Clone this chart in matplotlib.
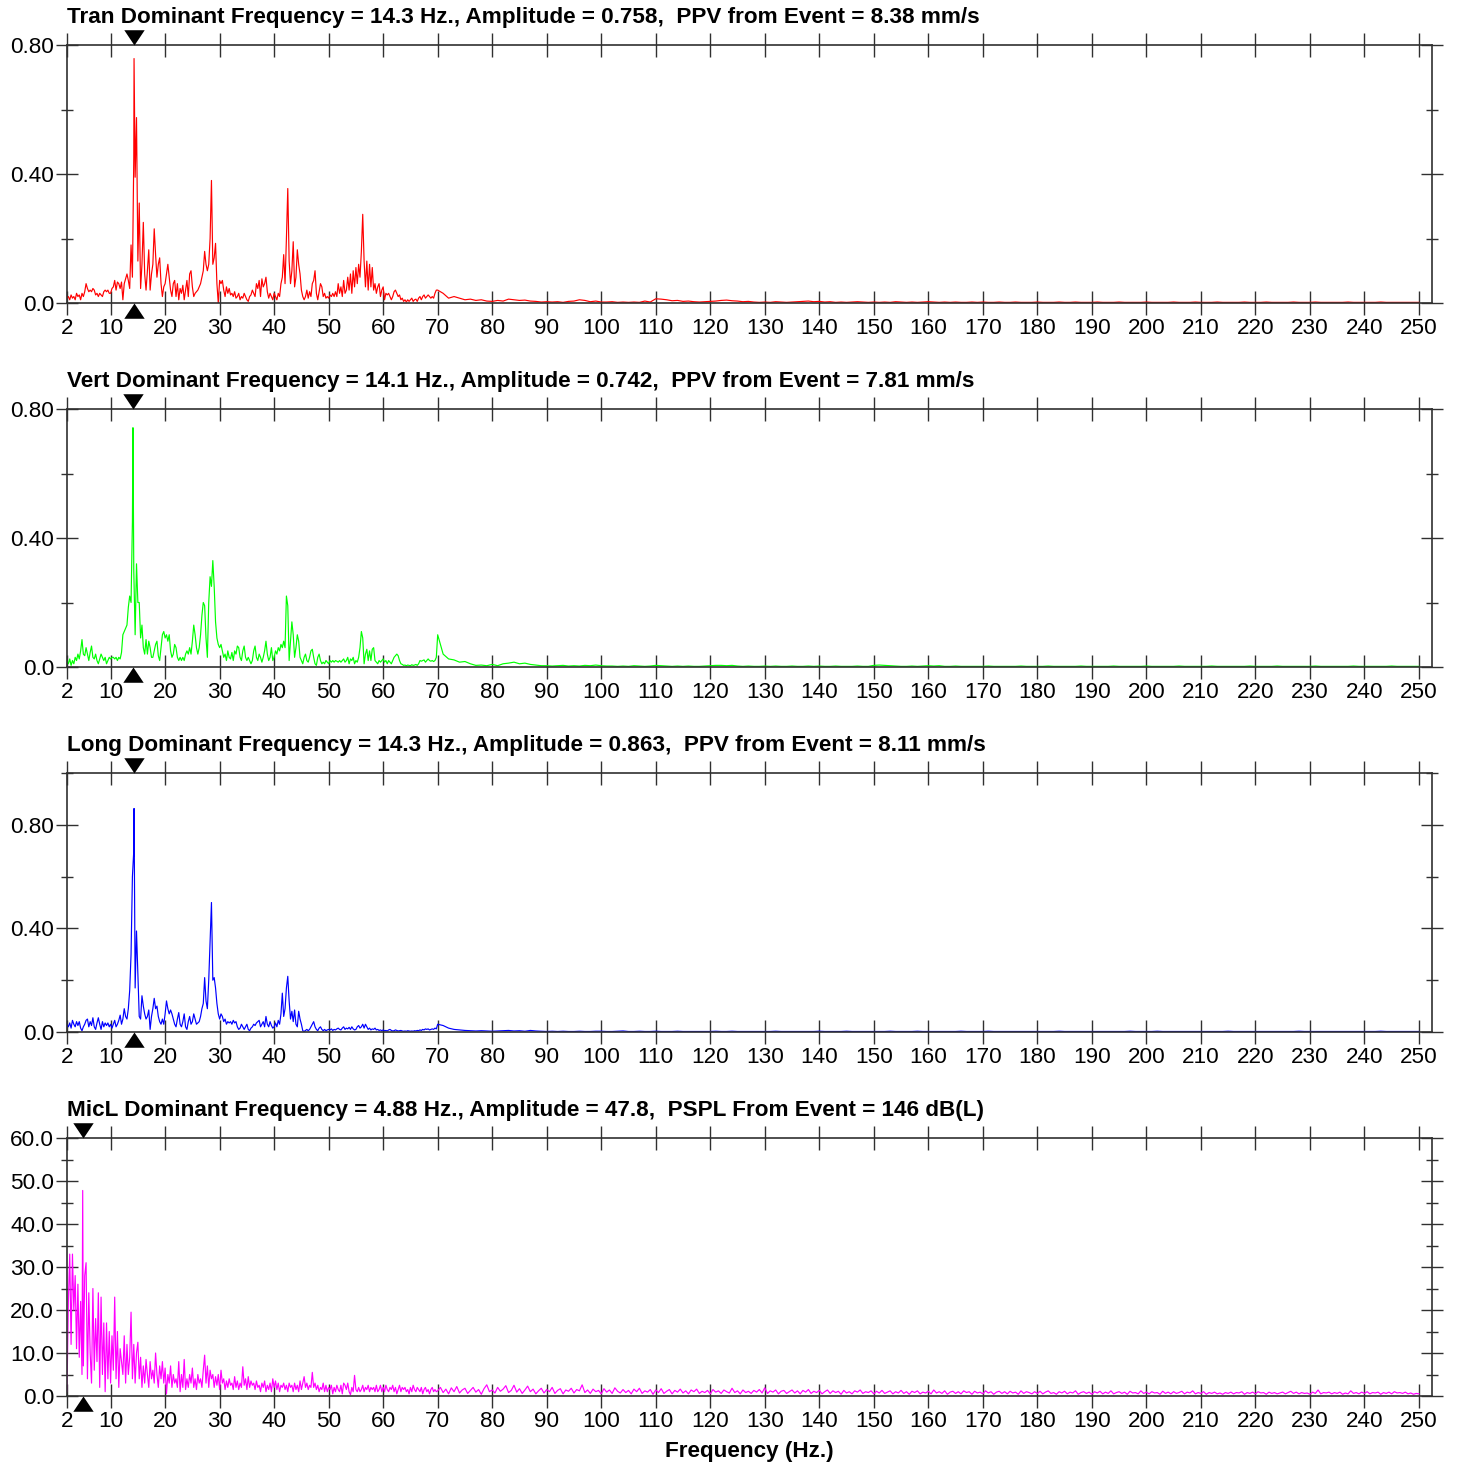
import numpy as np
import matplotlib
matplotlib.use('Agg')
import matplotlib.pyplot as plt
from matplotlib.ticker import FixedLocator, FixedFormatter

plt.rcParams['font.family'] = ['Liberation Sans', 'DejaVu Sans']

# channel summary
CHANNELS = ['Tran', 'Vert', 'Long', 'MicL']
COLORS = ['#ff0000', '#00ff00', '#0000ff', '#ff00ff']
DOM_FREQ = [14.3, 14.1, 14.3, 4.88]
DOM_AMP = [0.758, 0.742, 0.863, 47.8]
EVENT_TEXT = ['PPV from Event = 8.38 mm/s', 'PPV from Event = 7.81 mm/s',
              'PPV from Event = 8.11 mm/s', 'PSPL From Event = 146 dB(L)']

# spectra: *_lo every 0.25 Hz from 2 Hz, *_hi from 70 Hz (1 Hz step, MicL 0.5 Hz)
tran_lo = [
    .015, .02, .01, .025, .015, .02, .01, .03,
    .02, .025, .01, .03, .02, .035, .06, .045,
    .035, .04, .035, .045, .04, .025, .03, .02,
    .03, .025, .02, .035, .04, .035, .04, .03,
    .03, .045, .05, .07, .04, .065, .06, .045,
    .065, .01, .06, .075, .09, .07, .045, .18,
    .08, .45, .39, .575, .13, .31, .045, .12,
    .25, .09, .04, .1, .165, .04, .09, .12,
    .23, .15, .08, .12, .14, .06, .02, .05,
    .06, .09, .12, .08, .04, .02, .06, .07,
    .02, .06, .01, .045, .03, .055, .01, .04,
    .07, .02, .09, .1, .05, .02, .03, .035,
    .04, .05, .06, .08, .1, .16, .12, .1,
    .12, .2, .38, .12, .14, .185, .06, .0,
    .07, .06, .07, .04, .02, .05, .03, .045,
    .025, .03, .02, .035, .015, .02, .03, .01,
    .02, .015, .03, .02, .01, .005, .02, .025,
    .04, .03, .02, .06, .045, .07, .02, .075,
    .05, .06, .08, .035, .015, .03, .02, .01,
    .03, .02, .01, .03, .02, .06, .08, .15,
    .06, .2, .355, .13, .06, .1, .19, .05,
    .08, .165, .12, .09, .04, .02, .01, .02,
    .04, .015, .035, .02, .06, .07, .1, .03,
    .01, .035, .06, .05, .02, .03, .015, .02,
    .015, .025, .02, .03, .02, .035, .02, .06,
    .03, .05, .02, .07, .03, .04, .08, .04,
    .09, .03, .1, .05, .11, .06, .12, .08,
    .16, .275, .13, .05, .13, .04, .12, .05,
    .11, .04, .06, .03, .05, .06, .02, .04,
    .05, .01, .03, .025, .03, .02, .01, .02,
    .035, .04, .03, .02, .025, .01, .015, .005,
    .01, .003, .01, .005, .01, .015, .005, .01,
    .012, .005, .015, .02, .01, .02, .025, .015,
    .02, .025, .02, .015, .02, .015, .03, .04,
]
tran_hi = [
    .04, .03, .015, .02, .015, .01, .012, .008, .01, .006,
    .005, .008, .006, .012, .01, .008, .009, .006, .005, .003,
    .004, .003, .004, .002, .005, .006, .01, .008, .004, .006,
    .003, .003, .004, .002, .003, .002, .003, .002, .006, .003,
    .013, .012, .01, .007, .008, .005, .006, .004, .003, .004,
    .005, .006, .008, .009, .007, .006, .004, .005, .003, .002,
    .003, .002, .004, .003, .002, .003, .004, .005, .006, .004,
    .005, .003, .004, .002, .003, .002, .003, .004, .003, .002,
    .003, .002, .003, .002, .004, .003, .002, .003, .002, .003,
    .004, .003, .002, .003, .002, .003, .002, .002, .003, .002,
    .003, .002, .002, .003, .002, .002, .003, .002, .002, .002,
    .003, .002, .002, .002, .003, .002, .002, .003, .002, .002,
    .002, .003, .002, .002, .002, .003, .002, .002, .002, .002,
    .003, .002, .002, .002, .002, .003, .002, .002, .002, .003,
    .002, .002, .002, .003, .002, .002, .002, .002, .003, .002,
    .002, .002, .003, .002, .002, .002, .002, .003, .002, .002,
    .002, .003, .002, .002, .002, .002, .002, .003, .002, .002,
    .002, .002, .002, .003, .002, .002, .002, .002, .002, .002,
    .002,
]

vert_lo = [
    .02, .01, .025, .005, .02, .01, .03, .02,
    .04, .025, .05, .085, .04, .035, .06, .04,
    .02, .045, .065, .03, .025, .04, .02, .01,
    .025, .04, .03, .02, .03, .01, .02, .03,
    .025, .03, .03, .025, .03, .02, .03, .025,
    .045, .1, .11, .12, .13, .185, .22, .2,
    .45, .3, .1, .32, .2, .2, .09, .13,
    .06, .04, .085, .04, .08, .06, .03, .03,
    .05, .07, .08, .035, .02, .06, .1, .11,
    .09, .1, .08, .1, .05, .03, .04, .07,
    .06, .03, .02, .03, .02, .03, .02, .04,
    .05, .04, .06, .04, .08, .13, .1, .06,
    .04, .06, .1, .16, .2, .19, .09, .03,
    .2, .28, .25, .33, .25, .14, .09, .07,
    .06, .07, .05, .03, .04, .02, .05, .03,
    .025, .045, .02, .05, .04, .065, .06, .03,
    .02, .05, .065, .03, .02, .03, .02, .01,
    .02, .05, .065, .03, .02, .04, .03, .015,
    .03, .05, .08, .04, .02, .03, .06, .02,
    .03, .05, .04, .06, .05, .07, .06, .08,
    .06, .22, .19, .02, .08, .14, .1, .03,
    .06, .1, .08, .03, .02, .01, .03, .04,
    .02, .015, .03, .05, .055, .03, .01, .005,
    .03, .04, .02, .01, .015, .01, .02, .015,
    .01, .02, .015, .02, .015, .02, .018, .015,
    .02, .015, .02, .025, .015, .02, .03, .01,
    .025, .02, .03, .01, .02, .015, .03, .06,
    .11, .09, .01, .04, .055, .02, .05, .02,
    .055, .06, .02, .015, .01, .02, .015, .02,
    .025, .015, .02, .01, .02, .015, .01, .02,
    .03, .035, .04, .035, .02, .01, .008, .005,
    .006, .004, .006, .005, .004, .007, .005, .006,
    .008, .005, .01, .02, .018, .02, .022, .015,
    .02, .025, .02, .018, .02, .017, .02, .03,
]
vert_hi = [
    .1, .04, .025, .022, .015, .017, .01, .005, .006, .004,
    .008, .004, .01, .012, .015, .01, .012, .008, .006, .004,
    .004, .003, .004, .005, .003, .004, .003, .005, .004, .006,
    .004, .003, .003, .002, .003, .002, .004, .003, .002, .003,
    .005, .004, .003, .002, .003, .002, .003, .002, .002, .003,
    .004, .005, .005, .004, .005, .003, .002, .003, .002, .002,
    .003, .002, .003, .002, .002, .003, .002, .002, .003, .002,
    .003, .002, .002, .003, .002, .002, .002, .003, .002, .002,
    .005, .006, .005, .004, .003, .002, .002, .003, .002, .003,
    .004, .003, .004, .002, .002, .003, .002, .002, .002, .002,
    .002, .003, .002, .002, .002, .002, .002, .003, .002, .002,
    .002, .002, .003, .002, .002, .002, .002, .002, .003, .002,
    .002, .002, .002, .002, .003, .002, .002, .002, .002, .002,
    .003, .002, .002, .002, .002, .002, .003, .002, .002, .002,
    .002, .002, .003, .002, .002, .002, .002, .002, .002, .003,
    .002, .002, .002, .002, .003, .002, .002, .002, .002, .002,
    .002, .003, .002, .002, .002, .002, .002, .002, .003, .002,
    .002, .002, .002, .002, .002, .003, .002, .002, .002, .002,
    .002,
]

long_lo = [
    .03, .02, .035, .015, .045, .03, .02, .04,
    .025, .04, .015, .005, .02, .03, .045, .05,
    .02, .04, .025, .055, .02, .01, .035, .055,
    .03, .01, .04, .02, .035, .025, .035, .02,
    .03, .015, .03, .045, .02, .03, .045, .065,
    .03, .05, .09, .06, .05, .09, .16, .3,
    .6, .7, .17, .39, .22, .06, .05, .14,
    .1, .07, .05, .06, .085, .01, .06, .09,
    .13, .09, .1, .06, .04, .03, .05, .03,
    .07, .12, .09, .07, .085, .07, .05, .03,
    .02, .05, .075, .03, .02, .04, .07, .02,
    .01, .04, .06, .03, .04, .07, .05, .03,
    .035, .04, .06, .09, .11, .21, .12, .09,
    .2, .35, .5, .2, .21, .17, .11, .07,
    .05, .07, .06, .04, .05, .03, .04, .035,
    .04, .03, .045, .035, .04, .02, .01, .015,
    .03, .02, .01, .02, .03, .01, .005, .015,
    .02, .03, .025, .035, .04, .045, .02, .03,
    .04, .02, .06, .03, .02, .04, .025, .015,
    .02, .035, .02, .045, .03, .07, .15, .06,
    .09, .17, .215, .12, .05, .08, .04, .085,
    .03, .02, .08, .05, .03, .005, .002, .006,
    .01, .005, .01, .02, .03, .04, .02, .01,
    .005, .015, .02, .01, .005, .01, .005, .008,
    .01, .008, .012, .006, .01, .008, .012, .015,
    .01, .008, .015, .02, .01, .015, .012, .018,
    .01, .02, .012, .008, .01, .02, .025, .015,
    .02, .03, .015, .03, .02, .01, .015, .008,
    .012, .01, .015, .008, .01, .006, .008, .005,
    .008, .005, .006, .004, .008, .01, .006, .004,
    .005, .008, .006, .004, .005, .006, .004, .003,
    .004, .003, .005, .004, .003, .004, .003, .005,
    .004, .006, .005, .008, .006, .01, .008, .012,
    .01, .012, .008, .01, .012, .01, .015, .012,
]
long_hi = [
    .03, .025, .015, .01, .008, .006, .005, .004, .005, .004,
    .003, .004, .005, .006, .004, .005, .003, .006, .004, .003,
    .002, .003, .002, .003, .002, .002, .003, .002, .002, .003,
    .003, .002, .002, .003, .004, .002, .002, .003, .002, .002,
    .003, .002, .002, .002, .003, .002, .002, .002, .002, .002,
    .002, .003, .002, .002, .003, .002, .002, .002, .002, .002,
    .002, .002, .003, .002, .002, .002, .002, .002, .002, .002,
    .003, .002, .002, .002, .002, .003, .002, .002, .002, .002,
    .002, .002, .002, .003, .002, .002, .002, .002, .003, .002,
    .002, .002, .002, .002, .002, .002, .003, .002, .002, .002,
    .002, .003, .002, .002, .002, .002, .002, .002, .002, .002,
    .002, .002, .002, .002, .003, .002, .002, .002, .002, .002,
    .002, .002, .002, .002, .002, .002, .002, .003, .002, .002,
    .002, .002, .003, .002, .002, .002, .002, .002, .002, .002,
    .002, .002, .002, .002, .002, .003, .002, .002, .002, .002,
    .002, .002, .002, .002, .002, .002, .002, .002, .003, .002,
    .002, .002, .002, .002, .002, .002, .002, .002, .002, .002,
    .002, .002, .002, .003, .002, .002, .002, .002, .002, .002,
    .002,
]

micl_lo = [
    1, 22, 33, 12, 33, 20, 28, 11,
    26, 9, 22, 5, 7, 28, 31, 4,
    24, 10, 3, 25, 6, 18, 8, 24,
    2, 23, 5, 17, 1, 17, 4, 15,
    3, 14, 6, 23, 4, 15, 2, 11,
    8, 5, 14, 3, 12, 5, 9, 19.5,
    4, 12, 3, 10, 12.5, 4, 9, 2,
    7, 3, 8.5, 5, 2, 8, 4, 6,
    3, 10, 5, 2, 7, 4, 8, 3,
    6.5, 0.5, 5, 3, 7, 2, 5, 3,
    4, 2, 8, 1, 5, 2, 8.5, 1.5,
    4, 2, 5, 3, 6.5, 2, 4, 1.5,
    5, 3, 4, 2, 6, 9.5, 3, 7,
    2, 6, 4, 5, 2, 4.5, 2.5, 5,
    1.5, 6, 3, 4, 1.5, 3.5, 2, 4,
    2.5, 3, 1.5, 4.5, 2, 3.5, 1.5, 3,
    2, 6.8, 2.5, 4, 1.5, 4.5, 2, 3.5,
    2.5, 3, 1.5, 3.5, 2, 2.5, 1, 3,
    2, 3.5, 1, 2.5, 1.5, 3, 1, 4,
    2, 3.5, 1.5, 3, 1, 2.5, 2, 3,
    1.5, 2.5, 1, 3, 2, 2.5, 1, 3,
    1.5, 2.5, 1, 3.5, 1.5, 3, 4.5, 2,
    3, 1.5, 2.5, 2, 5.5, 2, 3, 1.5,
    2.5, 1, 2, 1.5, 3, 1, 2.5, 1,
    2, 1.5, 2.5, 0.5, 2, 1, 2.5, 1.5,
    1, 2.5, 0.5, 3, 2.5, 1.5, 3, 1,
    0.3, 2, 1, 4.8, 1.5, 1, 2, 1,
    1.5, 2.5, 1, 2, 1.5, 2.5, 1, 2,
    1.5, 2, 1, 2.5, 1, 1.5, 2.5, 1,
    2, 1, 2.5, 1.5, 1, 2, 1.5, 2.5,
    1, 2, 0.5, 1.5, 2.5, 1, 2, 1.5,
    2, 1, 1.5, 0.5, 2, 1, 2.5, 1.5,
    1, 2, 1.5, 1, 2, 0.5, 1.5, 2,
    1, 1.5, 0.5, 1.5, 2, 1, 1.5, 1,
]
micl_hi = [
    1.2, 2.0, 0.8, 1.6, 0.5, 1.9, 1.0, 2.2, 0.7, 1.4,
    1.8, 0.6, 1.3, 2.0, 0.9, 1.5, 0.4, 1.7, 2.6, 1.0,
    1.4, 0.7, 2.0, 1.1, 1.6, 2.4, 0.8, 1.3, 2.5, 0.9,
    1.7, 0.6, 1.4, 2.3, 1.0, 1.6, 0.5, 1.2, 1.8, 0.7,
    1.5, 1.0, 2.0, 0.6, 1.3, 1.7, 0.5, 1.4, 1.1, 1.8,
    0.7, 1.5, 1.2, 2.6, 0.8, 1.4, 0.6, 1.6, 1.0, 1.3,
    0.5, 1.7, 0.9, 1.4, 0.6, 1.9, 1.1, 0.7, 1.5, 0.8,
    1.3, 0.5, 1.6, 1.0, 1.8, 0.6, 1.2, 0.9, 1.5, 0.4,
    1.4, 0.8, 1.7, 0.6, 1.1, 1.5, 0.5, 1.3, 0.9, 1.6,
    0.7, 1.2, 0.5, 1.4, 1.0, 1.6, 0.6, 1.1, 0.8, 1.3,
    0.5, 1.5, 0.9, 1.2, 0.6, 1.4, 1.0, 0.7, 1.8, 0.8,
    1.2, 0.5, 1.4, 0.8, 1.1, 0.6, 1.3, 0.9, 1.5, 0.7,
    1.9, 0.6, 1.2, 0.9, 1.4, 0.5, 1.1, 1.3, 0.6, 1.0,
    1.4, 0.7, 1.2, 0.5, 1.3, 0.9, 1.5, 0.6, 1.1, 0.8,
    1.3, 0.5, 1.0, 1.4, 0.6, 1.2, 0.8, 1.1, 0.4, 1.3,
    0.7, 1.0, 0.5, 1.2, 0.9, 1.4, 0.6, 1.0, 0.8, 1.2,
    0.5, 1.1, 0.7, 1.3, 0.6, 0.9, 1.2, 0.5, 1.0, 0.7,
    1.3, 0.6, 1.0, 0.4, 1.1, 0.8, 1.2, 0.5, 0.9, 0.7,
    1.1, 0.5, 1.4, 0.7, 1.0, 0.6, 1.2, 0.4, 0.9, 1.1,
    0.6, 1.0, 0.5, 1.2, 0.8, 1.0, 0.4, 1.1, 0.7, 0.9,
    0.5, 1.2, 0.7, 1.0, 0.4, 0.9, 1.1, 0.6, 1.0, 0.5,
    1.1, 0.7, 0.9, 0.4, 1.2, 0.6, 1.0, 0.8, 0.5, 1.0,
    0.6, 1.1, 0.5, 0.9, 1.2, 0.6, 0.8, 0.4, 1.0, 0.7,
    1.1, 0.5, 0.9, 0.7, 1.2, 0.4, 0.8, 1.0, 0.6, 0.9,
    0.4, 1.0, 0.7, 1.1, 0.5, 0.9, 0.6, 1.2, 0.5, 0.8,
    1.0, 0.6, 0.9, 0.4, 1.1, 0.7, 0.8, 0.5, 1.2, 0.6,
    0.9, 0.5, 1.0, 0.7, 0.8, 0.4, 1.1, 0.6, 0.9, 0.5,
    1.0, 0.6, 0.8, 1.1, 0.5, 0.9, 0.7, 1.2, 0.5, 0.8,
    0.6, 1.0, 0.4, 0.8, 0.6, 0.9, 0.5, 0.7, 0.4, 0.8,
    0.6, 0.9, 0.5, 0.8, 0.7, 1.0, 0.4, 0.8, 0.6, 0.9,
    0.5, 1.0, 0.7, 0.8, 0.4, 0.9, 0.6, 0.8, 0.5, 0.7,
    0.9, 0.5, 0.8, 1.1, 0.6, 0.9, 0.5, 0.8, 0.6, 0.7,
    0.4, 0.9, 0.6, 1.4, 0.5, 0.8, 0.7, 0.9, 0.5, 0.8,
    0.6, 0.9, 0.4, 0.7, 0.5, 1.2, 0.6, 0.8, 0.5, 0.9,
    0.6, 1.0, 0.5, 0.8, 0.7, 0.9, 0.4, 0.8, 0.6, 0.9,
    0.5, 1.0, 0.7, 0.8, 0.6, 0.9, 0.5, 0.7, 0.4, 0.6,
    0.5,
]

SERIES = [(tran_lo, tran_hi, 1.0), (vert_lo, vert_hi, 1.0),
          (long_lo, long_hi, 1.0), (micl_lo, micl_hi, 0.5)]

# axis scales
X_TICKS = [2] + list(range(10, 251, 10))
Y_MAX = [0.8, 0.8, 1.0, 60.0]
Y_MAJOR = [[0, 0.4, 0.8]] * 3 + [list(range(0, 61, 10))]
Y_LABELS = [['0.0', '0.40', '0.80']] * 3 + [['%.1f' % v for v in range(0, 61, 10)]]
Y_MINOR = [[0.2, 0.6], [0.2, 0.6], [0.2, 0.6, 1.0], list(range(5, 60, 10))]


def spectrum(lo, hi, hi_step, f_dom, a_dom):
    f = np.concatenate([2 + 0.25 * np.arange(len(lo)), 70 + hi_step * np.arange(len(hi))])
    a = np.concatenate([np.asarray(lo, float), np.asarray(hi, float)])
    i = np.searchsorted(f, f_dom)
    return np.insert(f, i, f_dom), np.insert(a, i, a_dom)


W_PX, H_PX = 1457, 1468
fig = plt.figure(figsize=(W_PX / 100, H_PX / 100), dpi=100)
panel_px = [(45, 303), (409, 667), (773, 1032), (1138, 1396)]
left_px, right_px = 67, 1432

tri_down = [(-1, 1.5), (1, 1.5), (0, 0)]
tri_up = [(-1, -1.5), (1, -1.5), (0, 0)]
frame = '#303030'
FS = 16.2

for k in range(4):
    top, bot = panel_px[k]
    ax = fig.add_axes([left_px / W_PX, 1 - bot / H_PX,
                       (right_px - left_px) / W_PX, (bot - top) / H_PX])
    lo, hi, step = SERIES[k]
    f, a = spectrum(lo, hi, step, DOM_FREQ[k], DOM_AMP[k])
    ax.plot(f, a, color=COLORS[k], lw=0.85, zorder=2)

    ax.set_xlim(2, 252.4)
    ax.set_ylim(0, Y_MAX[k])
    ax.xaxis.set_major_locator(FixedLocator(X_TICKS))
    ax.xaxis.set_major_formatter(FixedFormatter([str(t) for t in X_TICKS]))
    ax.yaxis.set_major_locator(FixedLocator(Y_MAJOR[k]))
    ax.yaxis.set_major_formatter(FixedFormatter(Y_LABELS[k]))
    ax.yaxis.set_minor_locator(FixedLocator(Y_MINOR[k]))

    ax.tick_params(which='both', direction='inout', top=True, right=True,
                   colors=frame, labelcolor='black', labelsize=FS, width=1.0)
    ax.tick_params(axis='x', which='major', length=17, pad=2.5)
    ax.tick_params(axis='y', which='major', length=16.5, pad=1)
    ax.tick_params(axis='y', which='minor', length=8)
    for s in ax.spines.values():
        s.set_color(frame)
        s.set_linewidth(1.2)

    # dominant frequency markers above and below the frame
    xt = ax.get_xaxis_transform()
    ax.plot([DOM_FREQ[k]], [1], marker=tri_down, ms=22, color='black', mew=0,
            transform=xt, clip_on=False, zorder=5)
    ax.plot([DOM_FREQ[k]], [0], marker=tri_up, ms=22, color='black', mew=0,
            transform=xt, clip_on=False, zorder=5)

    title = '%s Dominant Frequency = %.3g Hz., Amplitude = %.3g,  %s' % (
        CHANNELS[k], DOM_FREQ[k], DOM_AMP[k], EVENT_TEXT[k])
    ax.annotate(title, xy=(0, 1), xycoords='axes fraction', xytext=(0, 16),
                textcoords='offset points', ha='left', va='baseline',
                fontsize=FS, fontweight='bold')

fig.text((left_px + right_px) / 2 / W_PX, 1 - 1452 / H_PX, 'Frequency (Hz.)',
         ha='center', va='center', fontsize=FS, fontweight='bold')

fig.savefig('out.png', dpi=100)
